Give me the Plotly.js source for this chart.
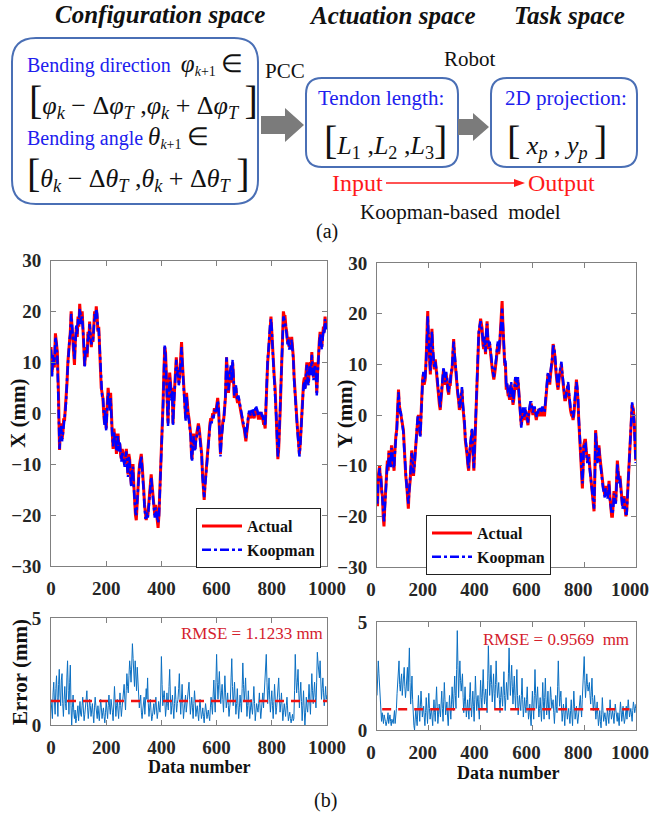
<!DOCTYPE html>
<html>
<head>
<meta charset="utf-8">
<script src="https://cdn.plot.ly/plotly-3.0.1.min.js"></script>
<style>
  html, body { margin: 0; padding: 0; background: #fff; }
  #fig { width: 650px; height: 818px; }
</style>
</head>
<body>
<div id="fig"></div>
<script>
// ---------- X position: actual vs Koopman prediction ----------
const xNum = [
  0,4,7,12,16,20,23,27,31,34,
  37,40,43,46,49,52,55,58,61,64,
  67,70,73,76,79,82,85,88,92,95,
  98,101,104,107,110,113,116,119,122,125,
  128,131,134,137,140,143,146,149,152,155,
  158,161,164,167,170,173,176,179,182,185,
  188,191,194,197,200,204,207,210,213,216,
  219,222,225,228,231,234,237,240,243,246,
  249,252,255,258,261,264,267,270,273,276,
  279,282,285,288,291,294,297,300,303,306,
  309,312,315,318,321,324,327,330,333,336,
  339,342,345,348,351,354,357,360,363,366,
  370,373,376,379,382,385,388,391,394,397,
  400,403,406,409,412,415,418,421,424,427,
  430,433,436,439,442,445,448,451,454,457,
  460,463,466,469,473,476,479,482,485,488,
  491,494,497,500,503,506,509,511,514,516,
  519,522,525,528,531,534,537,540,543,546,
  549,552,555,558,561,564,567,570,573,576,
  579,582,586,589,592,595,598,601,604,607,
  610,612,614,617,620,623,626,629,632,634,
  636,639,643,646,649,652,655,658,661,664,
  667,670,673,676,679,682,685,688,691,694,
  697,700,703,706,709,712,715,718,721,724,
  727,730,733,736,739,742,745,748,751,755,
  758,761,764,767,770,773,776,779,782,785,
  788,791,794,797,800,803,806,809,812,815,
  817,819,822,825,827,830,833,836,839,842,
  845,848,851,854,857,860,863,866,869,872,
  875,878,881,884,887,890,893,896,899,900,
  903,905,907,909,912,915,918,921,924,927,
  930,933,936,939,942,945,948,951,954,957,
  960,963,966,969,972,975,978,981,984,987,
  990,993,996,999
];
const xActual = [
  13,8,11,9,15.7,13,12,4,-7.2,-3,
  -2,-5,-4,-1,-1.5,1,3,6,10,13,
  14,16,20,17,15,12,9.5,14,17,15,
  19,17,21.5,19,18,20,16,13,9.3,12,
  13,11,16,14,18,15,13,15,14,17,
  20,18,21,19,16,17,12,8,5,4,
  3,0,-2,1,-3,2,5,3,1,4,
  -3,-4,-7,-3,-5,-4,-8,-6,-4,-7,
  -6,-8,-9,-7,-8,-9,-10,-8,-7,-10,
  -12,-8,-9,-12,-14,-11,-10,-14,-18,-20,
  -21,-17,-14,-12,-10,-9,-8,-10,-12,-15,
  -18,-20,-21,-19,-20,-18,-16,-13,-12,-14,
  -17,-19,-20,-18,-19,-21,-22.5,-20,-16,-11,
  -8,-5,2,8,13,12,8,3,-2,4,
  8,6,3,5,-2,2,6,9,11,8,
  9,6,7,10,14,10,7,5,2,-1,
  4,1,0,-1,-3,-4,-8,-9,-5,-4,
  -6,-7,-5,-4,-3,-2,-3,-5,-6,-8,
  -12,-15,-17,-14,-12,-10,-8,-5,-3,-2,
  -1,-1.5,0,-0.5,1,0,0.5,1.5,3,1,
  -3,-6,-8,-5,-2,-1.5,-1,1,3,7,
  11,8,4,6,8,9,6,10,7,3,
  4,5,3,2,3,2,1,0,-1,-2,
  -2.5,-3,-4,-5.5,-4,-2,-1,0,-0.5,-1,
  0,0.5,-0.5,-1,0,1,0.5,0,-1,-1,
  0,0,-1,-1,-2,-2,-3,2,6,10,
  12,15,17,19,16,12,9,7,5,2,
  -2,-5,-9,-7,-5,0,5,10,14,20,
  19,19,17,16,14,15,13,14,13,15,
  13,11,7,4,1,-1,-3,-5,-7,-8,
  -6,-4,-1,2,4,6,7,5,8,10,
  7,6,9,10,8,12,9,7,9,10,
  8,4,8,13,14,16,15,13,15,17,
  16,19,17,18
];
const xKoopman = [
  12.5,7,11.5,9.5,15,13.5,11,3.5,-7,-4,
  -2.5,-5.5,-3.5,-2,-1,0.5,2.5,6.5,9.5,13.5,
  14.5,15.5,19.5,17.5,14.5,12.5,10.5,13.5,17.5,15.5,
  18.5,17.5,20.5,19.5,17.5,19,16.5,13.5,9,12.5,
  12.5,11.5,15.5,14.5,17.5,15.5,13.5,14.5,14.5,16.5,
  19.5,18.5,20.5,19.5,16.5,16.5,12.5,8.5,5.5,3.5,
  3.5,0.5,-2.5,0.5,-3.5,1.5,4,3.5,0.5,3,
  -2.5,-4.5,-6.5,-3.5,-5.5,-4.5,-7.5,-6.5,-4.5,-7.5,
  -5.5,-8.5,-9.5,-7.5,-8.5,-9.5,-10.5,-8.5,-7.5,-10.5,
  -12.5,-8.5,-9.5,-12.5,-14.5,-11.5,-10.5,-14.5,-17.5,-19.5,
  -20,-17.5,-14.5,-12.5,-10.5,-9.5,-8.5,-10.5,-12.5,-15.5,
  -18.5,-20.5,-20.5,-19.5,-20.5,-18.5,-16.5,-13.5,-12.5,-14.5,
  -17.5,-19.5,-20.5,-18.5,-19.5,-20.5,-21.5,-20.5,-16.5,-11.5,
  -8.5,-5.5,1.5,7.5,13.5,11.5,7,2.5,-2.5,3.5,
  7,5.5,2.5,4.5,-2.5,1.5,5.5,8.5,10.5,7.5,
  8.5,5.5,6.5,9.5,13,9.5,6.5,4.5,1.5,-1.5,
  3.5,0.5,-0.5,-1.5,-3.5,-4.5,-8.5,-9.5,-5.5,-4.5,
  -6.5,-7.5,-5.5,-4.5,-3.5,-2.5,-3.5,-5.5,-6.5,-8.5,
  -12.5,-15.5,-16.5,-14.5,-12.5,-10.5,-8.5,-5.5,-3.5,-2.5,
  -1.5,-2,-0.5,-1,0.5,0.5,0,1,2.5,1.5,
  -3.5,-6.5,-8.5,-5.5,-2.5,-2,-1.5,0.5,3.5,7.5,
  11,8.5,4.5,6.5,8.5,9.5,6.5,10.5,7.5,3.5,
  4.5,5.5,3.5,2.5,3.5,2.5,1.5,0.5,-0.5,-1.5,
  -2,-2.5,-3.5,-5,-3.5,-1.5,-0.5,0.5,0,-0.5,
  0.5,1,0,-0.5,0.5,1.5,1,0.5,-0.5,-0.5,
  0.5,0.5,-0.5,-0.5,-1.5,-1.5,-2.5,2.5,6.5,10.5,
  12.5,15.5,17.5,18.5,16.5,12.5,9.5,7.5,5.5,2.5,
  -1.5,-4.5,-8.5,-6.5,-4.5,0.5,5.5,10.5,14.5,19,
  18.5,18,16.5,15.5,13.5,14.5,12.5,13.5,12.5,14.5,
  12.5,10.5,6.5,3.5,0.5,-1.5,-3.5,-5.5,-7.5,-8.5,
  -6.5,-4.5,-1.5,1.5,3.5,5.5,6,4.5,7.5,9.5,
  6.5,5.5,8.5,9.5,7.5,11.5,8.5,6.5,8.5,9.5,
  7.5,3.5,7.5,12.5,13.5,15.5,14.5,12.5,14.5,16.5,
  15.5,18.5,16.5,17.5
];

// ---------- Y position: actual vs Koopman prediction ----------
const yNum = [
  0,2,5,8,10,13,15,18,21,24,
  27,30,34,37,40,43,46,49,53,56,
  59,62,66,68,70,73,76,79,81,83,
  86,89,92,96,99,102,105,108,111,115,
  118,121,124,128,131,134,137,141,144,147,
  150,154,157,160,163,167,170,173,176,179,
  182,186,189,192,194,196,198,201,204,206,
  209,212,215,218,221,225,228,231,234,238,
  241,244,247,251,254,257,260,264,267,270,
  273,277,280,283,286,290,293,296,299,303,
  306,309,312,315,318,322,325,328,331,335,
  338,341,344,348,351,354,357,361,364,367,
  370,374,377,380,384,387,390,393,396,400,
  403,406,409,412,415,419,422,425,428,432,
  435,438,441,445,448,451,454,457,461,464,
  467,470,474,477,480,483,486,489,493,496,
  499,502,506,509,512,515,518,522,525,528,
  531,534,538,541,544,547,550,553,557,560,
  563,567,570,573,576,579,583,586,589,592,
  596,599,602,605,609,612,615,618,622,625,
  628,631,634,638,641,644,647,650,654,657,
  660,664,667,670,673,677,680,683,686,690,
  693,696,699,702,705,709,712,715,718,722,
  725,728,731,734,738,741,744,747,751,754,
  757,760,763,767,770,773,776,779,783,786,
  789,791,793,796,798,802,805,808,812,815,
  818,821,825,828,831,834,838,841,844,847,
  851,854,857,860,864,867,870,873,877,880,
  883,886,890,893,896,899,903,906,909,912,
  915,918,922,925,928,931,935,938,941,944,
  948,951,954,957,961,964,967,970,973,976,
  980,982,985,988,990,993,995,997,999
];
const yActual = [
  -17,-18,-12,-10.5,-10,-13,-12,-15,-16,-20,
  -22,-18,-14,-13,-9,-11,-7,-9,-10,-6,
  -8,-9,-11,-8,-6,-4,-3,1,3,5,
  2,1,0,-1,-2,-3,-6,-10,-12,-14,
  -16,-18.5,-15,-13,-10,-7,-9,-12,-10,-8,
  -5,-2,-1,0,-2,-4,0,4,7,8,
  6,7,10,14,18,20.5,16,12,10,8,
  13,17,13,10,9,11,9,8,6,4,
  2,1,3,5,7,9,7,6,8,7,
  5,4,6,6,8,9,12,15,12,9,
  7,5,4,3,1,2,4,5,2,0,
  -2,-5,-6,-8,-10,-11,-8,-6,-5,-3,
  -7,-11,-7,-2,4,10,13,16,17,19,
  18,17,14,13,15,12,16,18.5,15,13,
  14,12,11,9,8,7,8,9,11,13,
  14,12,14,17,19,22.5,18,15,10,10,
  5,6,4,4,3,5,6,4,2,3,
  5,7,6,5,7,5,3,1,-2,-1,
  1,0,-1,1,0,-1,-2,0,1,2,
  2,1,0,1,1,0,-1,0,0,1,
  1,0,0,1,1,0,0,2,5,7,
  8,7,6,8,9,11,14,13,12,9,
  7,6,5,7,8,9,10,8,6,4,
  3,3,4,5,6,4,2,1,0,0,
  -1,0,2,5,7,5,3,-1,-5,-8,
  -10,-12,-14.5,-10,-6,-5,-5,-7,-9,-8,
  -8,-10,-12,-13,-15,-17,-19,-12,-3,-5,
  -9,-7,-6,-8,-10,-12,-13,-14,-15,-16,
  -14,-15,-16,-15,-13,-16,-19,-20,-20,-18,
  -15,-16,-17,-13,-9,-11,-13,-12,-14,-16,
  -18,-17,-16,-18,-20,-19,-16,-14,-11,-8,
  -3,0,2,1.5,1,-1,-4,-7,-9
];
const yKoopman = [
  -16,-17.5,-13,-11,-10.5,-12.5,-12.5,-14.5,-16.5,-19.5,
  -21,-18.5,-14.5,-12.5,-9.5,-10.5,-7.5,-8.5,-10.5,-6.5,
  -7.5,-9.5,-10.5,-8.5,-6.5,-4.5,-3.5,0.5,3.5,4.5,
  2.5,0.5,0.5,-1.5,-2.5,-3.5,-6.5,-9.5,-12.5,-14.5,
  -15.5,-17.5,-15.5,-12.5,-10.5,-7.5,-8.5,-11.5,-10.5,-8.5,
  -5.5,-2.5,-0.5,-0.5,-1.5,-4.5,0.5,3.5,6.5,8.5,
  6.5,7.5,9.5,13.5,17.5,19.5,16.5,12.5,10.5,8.5,
  12.5,16.5,13.5,10.5,9.5,10.5,9.5,8.5,6.5,4.5,
  2.5,1.5,3.5,5.5,7.5,9.5,7.5,6.5,8.5,7.5,
  5.5,4.5,6.5,6.5,8.5,9.5,12.5,14.5,12.5,9.5,
  7.5,5.5,4.5,3.5,1.5,2.5,4.5,5.5,2.5,0.5,
  -1.5,-4.5,-5.5,-7.5,-9.5,-10.5,-7.5,-5.5,-4.5,-2.5,
  -6.5,-10.5,-6.5,-1.5,4.5,10.5,13.5,16.5,17.5,18.5,
  17.5,16.5,14.5,13.5,15.5,12.5,16.5,18,15.5,13.5,
  14.5,12.5,11.5,9.5,8.5,7.5,8.5,9.5,11.5,13.5,
  14.5,12.5,14.5,16.5,18.5,21,18.5,15.5,10.5,10.5,
  5.5,6.5,4.5,4.5,3.5,5.5,6.5,4.5,2.5,3.5,
  5.5,7.5,6.5,5.5,7.5,5.5,3.5,1.5,-2.5,-0.5,
  1.5,0.5,-0.5,1.5,0.5,-0.5,-1.5,0.5,1.5,2.5,
  2.5,1.5,0.5,1.5,1.5,0.5,-0.5,0.5,0.5,1.5,
  1.5,0.5,0.5,1.5,1.5,0.5,0.5,2.5,5.5,7.5,
  8.5,7.5,6.5,8.5,9.5,11.5,13.5,13.5,12.5,9.5,
  7.5,6.5,5.5,7.5,8.5,9.5,10.5,8.5,6.5,4.5,
  3.5,3.5,4.5,5.5,6.5,4.5,2.5,1.5,0.5,0.5,
  -0.5,0.5,2.5,5.5,6.5,5.5,3.5,-0.5,-4.5,-7.5,
  -9.5,-11.5,-13.5,-10.5,-6.5,-5.5,-5.5,-7.5,-9.5,-8.5,
  -8.5,-10.5,-12.5,-13.5,-15.5,-17.5,-18.5,-12.5,-3.5,-5.5,
  -9.5,-7.5,-6.5,-8.5,-10.5,-12.5,-13.5,-14.5,-15.5,-16.5,
  -14.5,-15.5,-16.5,-15.5,-13.5,-16.5,-18.5,-19.5,-19.5,-18.5,
  -15.5,-16.5,-17.5,-13.5,-9.5,-11.5,-13.5,-12.5,-14.5,-16.5,
  -18.5,-17.5,-16.5,-18.5,-19.5,-19.5,-16.5,-14.5,-11.5,-8.5,
  -3.5,-0.5,2.5,1.5,0.5,-1.5,-4.5,-7.5,-9.5
];

// ---------- Tracking errors, one sample every 2.5 data numbers ----------
const errStep = 2.5;
const xError = [
  1.2,0.6,0.3,1.5,2.0,1.1,0.5,1.7,2.3,1.3,0.4,1.9,2.6,1.4,0.9,2.1,2.4,1.0,0.4,1.2,
  1.8,1.0,0.7,2.2,3.0,1.6,0.5,2.0,2.8,0.9,0.0,0.8,1.4,0.6,0.3,0.7,0.1,0.3,0.5,0.9,
  0.2,0.6,1.1,0.5,0.4,0.9,1.3,0.7,0.2,0.5,0.9,1.3,1.6,0.8,0.3,0.7,1.2,0.9,0.4,0.7,
  1.0,0.5,0.1,0.8,1.3,0.9,0.5,0.3,0.9,0.6,0.2,0.7,1.2,0.8,0.3,0.6,0.8,0.4,0.1,0.6,
  1.1,0.7,0.3,0.9,1.4,0.8,0.5,1.2,1.0,0.6,0.2,1.0,1.8,1.1,0.4,0.9,1.2,0.7,0.3,0.9,
  1.5,0.9,0.4,0.8,1.1,1.4,1.9,1.2,0.7,1.6,2.4,1.8,1.5,2.3,3.0,2.6,2.0,2.8,3.8,3.1,
  2.5,1.8,3.0,2.1,1.6,2.7,2.2,1.5,0.8,1.1,1.4,0.6,0.3,0.7,1.0,1.3,0.5,1.0,1.7,1.2,
  2.2,1.0,0.4,0.8,1.2,0.6,0.2,0.4,0.8,1.0,0.5,0.9,1.3,0.7,0.3,0.6,1.1,0.8,0.6,1.4,
  3.2,1.9,0.9,1.3,1.6,1.1,0.4,0.8,1.5,1.0,0.7,1.8,2.6,1.4,0.5,0.9,1.4,0.8,0.3,1.0,
  1.8,1.2,0.6,1.0,1.2,1.7,2.4,1.3,0.5,1.2,1.9,1.0,0.3,0.7,1.1,1.4,0.6,1.0,1.5,1.7,
  2.0,1.2,0.5,0.9,1.3,0.8,0.3,1.0,1.6,1.1,0.4,0.7,0.9,0.5,0.2,0.8,1.2,0.7,0.3,0.5,
  0.8,0.4,0.1,0.6,1.0,0.7,0.3,0.5,0.7,0.4,0.2,0.8,1.3,0.9,0.5,1.4,2.1,1.2,0.6,2.0,
  3.3,2.0,1.2,1.9,2.5,1.6,1.0,1.5,1.9,1.2,0.6,1.4,2.3,1.5,0.8,1.1,1.5,0.9,0.4,0.8,
  1.2,2.2,3.1,1.8,0.9,1.4,2.0,1.1,0.5,1.0,1.7,0.9,0.3,0.8,1.4,1.0,0.6,1.7,2.9,1.9,
  1.1,1.6,2.2,1.2,0.4,0.9,1.6,0.9,0.3,0.7,1.2,0.8,0.5,1.1,1.8,1.0,0.2,0.6,1.0,0.8,
  0.6,1.0,1.5,0.8,0.3,0.7,1.2,1.5,0.8,1.3,2.0,2.6,3.3,2.0,1.0,1.6,2.2,1.2,0.6,1.1,
  1.6,0.9,0.3,1.1,1.9,1.2,0.5,0.8,1.2,1.6,2.2,1.3,0.6,1.0,1.5,0.8,0.2,0.6,1.0,0.7,
  0.4,0.9,1.3,0.7,0.2,0.4,0.6,0.3,0.1,0.3,0.5,0.2,0.3,1.6,3.3,2.2,1.5,2.0,2.6,1.6,
  0.8,1.4,2.0,1.1,0.2,0.9,1.6,0.7,0.0,0.6,1.3,0.8,0.6,1.2,1.9,1.1,0.5,1.5,2.4,1.6,
  1.0,1.5,2.0,1.3,0.8,2.0,3.4,2.9,2.6,2.2,3.0,2.1,1.2,1.7,2.2,1.5,0.9,1.3,1.8,1.2,
  1.4
];
const yError = [
  1.6,2.4,3.2,2.6,2.0,1.1,0.5,0.4,0.8,0.5,0.3,0.7,0.6,0.4,0.2,0.3,0.5,0.8,0.3,0.5,
  0.7,0.4,0.2,0.5,0.4,0.3,0.6,0.9,0.3,0.6,1.0,1.7,2.2,2.7,3.2,2.1,1.8,2.3,2.6,1.6,
  2.0,2.4,2.9,2.0,1.5,1.9,2.4,2.9,1.8,2.6,3.8,2.2,1.2,1.8,2.5,1.4,0.5,0.2,0.0,0.6,
  1.0,0.5,0.2,0.9,1.6,1.0,0.4,1.1,1.8,1.2,0.6,0.9,1.1,0.6,0.2,0.8,1.5,0.9,0.3,1.0,
  1.7,1.0,0.5,0.8,1.0,0.6,0.2,0.9,1.4,0.8,0.4,1.3,2.0,1.1,0.3,0.7,1.2,0.9,0.6,1.2,
  1.8,1.0,0.4,1.3,2.2,1.4,0.7,1.0,1.3,0.6,0.2,0.9,1.6,1.0,0.5,1.2,2.0,1.4,0.9,1.7,
  2.5,1.6,1.0,2.8,4.6,3.0,1.5,2.4,3.2,2.3,1.8,2.2,2.6,1.5,0.8,1.3,2.0,1.2,0.6,1.0,
  1.4,0.9,0.5,1.5,2.2,1.3,0.6,1.2,1.8,1.1,0.4,1.4,2.5,1.6,0.9,1.3,1.6,1.0,0.5,1.4,
  2.3,1.5,1.0,1.9,2.8,1.8,1.2,1.6,1.9,1.3,0.8,2.3,3.9,2.6,1.6,2.2,3.0,2.1,1.3,1.9,
  2.6,1.7,1.0,2.1,3.2,2.2,1.5,1.8,2.2,1.4,0.8,1.5,2.0,1.5,1.1,1.9,2.7,1.6,0.9,1.5,
  2.2,1.8,1.4,2.6,3.8,2.5,1.6,2.3,3.0,2.0,1.2,1.9,2.5,1.6,1.0,1.9,2.8,1.6,0.7,1.1,
  1.6,1.2,0.9,1.6,2.4,1.4,0.6,1.0,1.5,1.1,0.8,1.4,2.0,1.1,0.5,0.8,1.2,0.6,0.2,1.0,
  1.8,1.1,0.5,1.6,2.8,1.7,1.0,1.5,2.0,1.2,0.6,1.0,1.5,0.9,0.4,1.3,2.2,1.3,0.5,1.5,
  2.4,1.4,0.7,1.2,1.8,1.0,0.5,1.3,2.0,1.5,1.0,1.2,1.4,0.8,0.3,0.9,1.6,1.1,0.8,2.0,
  3.2,2.0,1.1,1.5,1.8,1.0,0.4,0.8,1.2,0.7,0.2,0.9,1.5,0.9,0.5,0.8,1.0,0.6,0.3,0.9,
  1.4,0.7,0.2,1.0,1.8,1.1,0.5,0.8,1.1,0.6,0.3,0.6,0.9,1.2,1.6,1.0,0.6,1.4,2.2,2.8,
  3.4,2.3,1.5,2.0,2.6,2.1,1.8,2.0,2.2,1.6,1.2,1.8,2.4,1.5,0.9,1.2,1.6,1.0,0.5,0.9,
  1.3,0.7,0.2,0.5,0.9,0.4,0.1,0.7,1.5,0.9,0.4,0.6,0.8,0.5,0.2,0.6,1.0,0.6,0.3,0.8,
  1.4,0.9,0.5,0.7,0.9,0.6,0.3,0.8,1.2,0.9,0.6,0.4,0.8,0.5,0.2,0.8,1.3,0.9,0.4,0.7,
  1.1,0.6,0.3,0.5,0.8,1.1,0.5,0.9,1.4,1.0,0.6,0.8,1.0,0.7,0.4,0.9,1.3,1.1,0.8,1.0,
  1.2
];
const rmseX = 1.1233;
const rmseY = 0.9569;
const rmseXSpan = [0, 1000];
const rmseYSpan = [20, 975];

const timeTicks = [0, 200, 400, 600, 800, 1000];
const posTicks = [-30, -20, -10, 0, 10, 20, 30];
const errTicks = [0, 5];

// ---------- styling ----------
const W = 650, H = 818;
const SERIF = 'Liberation Serif, Times New Roman, serif';
const RED = '#ff0000', BLUE = '#0000ff', ERRBLUE = '#0a6fc2';
const TXTBLUE = '#2020ee', BOXBLUE = '#4a6fb5', GREY = '#808080';
const px = v => v / W;
const py = v => 1 - v / H;
const P = (x, y) => px(x).toFixed(5) + ',' + py(y).toFixed(5);

function roundRect(x0, y0, x1, y1, r) {
  return 'M' + P(x0 + r, y0) + ' L' + P(x1 - r, y0) + ' Q' + P(x1, y0) + ' ' + P(x1, y0 + r) +
    ' L' + P(x1, y1 - r) + ' Q' + P(x1, y1) + ' ' + P(x1 - r, y1) +
    ' L' + P(x0 + r, y1) + ' Q' + P(x0, y1) + ' ' + P(x0, y1 - r) +
    ' L' + P(x0, y0 + r) + ' Q' + P(x0, y0) + ' ' + P(x0 + r, y0) + ' Z';
}
function blockArrow(x0, xh, x1, c, t, h) {
  return 'M' + P(x0, c - t) + ' L' + P(xh, c - t) + ' L' + P(xh, c - h) + ' L' + P(x1, c) +
    ' L' + P(xh, c + h) + ' L' + P(xh, c + t) + ' L' + P(x0, c + t) + ' Z';
}

const axisBase = {
  showline: true, linecolor: GREY, linewidth: 1, mirror: 'ticks',
  ticks: 'inside', ticklen: 5, tickcolor: GREY, tickwidth: 1,
  showgrid: false, zeroline: false, ticklabelstandoff: 5, ticklabeloverflow: 'allow',
  tickfont: { family: SERIF, size: 19, color: '#262626', weight: 'bold' }
};
// right-hand panels sit against the page edge: nudge their x labels inward
const rightEdgeAxis = { ticklabelshift: -6 };

const traces = [
  { x: xNum, y: xActual, xaxis: 'x', yaxis: 'y', mode: 'lines', name: 'Actual',
    line: { color: RED, width: 3 }, legend: 'legend' },
  { x: xNum, y: xKoopman, xaxis: 'x', yaxis: 'y', mode: 'lines', name: 'Koopman',
    line: { color: BLUE, width: 2.5, dash: 'dashdot' }, legend: 'legend' },
  { x: yNum, y: yActual, xaxis: 'x2', yaxis: 'y2', mode: 'lines', name: 'Actual',
    line: { color: RED, width: 3 }, legend: 'legend2' },
  { x: yNum, y: yKoopman, xaxis: 'x2', yaxis: 'y2', mode: 'lines', name: 'Koopman',
    line: { color: BLUE, width: 2.5, dash: 'dashdot' }, legend: 'legend2' },
  { x0: 0, dx: errStep, y: xError, xaxis: 'x3', yaxis: 'y3', mode: 'lines', showlegend: false,
    line: { color: ERRBLUE, width: 1 } },
  { x: rmseXSpan, y: [rmseX, rmseX], xaxis: 'x3', yaxis: 'y3', mode: 'lines', showlegend: false,
    line: { color: '#ee1111', width: 2.5, dash: '9px,7px' } },
  { x0: 0, dx: errStep, y: yError, xaxis: 'x4', yaxis: 'y4', mode: 'lines', showlegend: false,
    line: { color: ERRBLUE, width: 1 } },
  { x: rmseYSpan, y: [rmseY, rmseY], xaxis: 'x4', yaxis: 'y4', mode: 'lines', showlegend: false,
    line: { color: '#ee1111', width: 2.5, dash: '9px,7px' } }
];

const legendBase = {
  xanchor: 'left', yanchor: 'top', bgcolor: '#ffffff', bordercolor: '#222', borderwidth: 1,
  font: { family: SERIF, size: 16, color: '#111', weight: 'bold' }, tracegroupgap: 0,
  itemwidth: 40
};

const big = s => '<span style="font-size:40px">' + s + '</span>';
const blue = s => '<span style="color:' + TXTBLUE + '">' + s + '</span>';
const sub = s => '<sub>' + s + '</sub>';
const sym = s => '<span style="font-size:25px">' + s + '</span>';

function note(x, y, text, size, opts) {
  return Object.assign({
    xref: 'paper', yref: 'paper', x: px(x), y: py(y), text: text, showarrow: false,
    xanchor: 'center', yanchor: 'middle',
    font: { family: SERIF, size: size, color: '#111' }
  }, opts || {});
}
const redFont = size => ({ font: { family: SERIF, size: size, color: '#ff1a1a' } });
const rmseFont = { font: { family: SERIF, size: 17, color: '#d4202c' } };
const vertical = { textangle: -90 };

const annotations = [
  // diagram (a)
  note(160, 14, '<b><i>Configuration space</i></b>', 25),
  note(392, 16, '<b><i>Actuation space</i></b>', 25),
  note(569, 16, '<b><i>Task space</i></b>', 25),
  note(25, 64, blue('Bending direction') + '  ' + sym('<i>φ</i>') + sub('<i>k</i>+1') + ' ' + sym('∈'), 20, { xanchor: 'left' }),
  note(27, 100, big('[') + '<i>φ</i>' + sub('<i>k</i>') + ' − Δ<i>φ</i>' + sub('<i>T</i>') + ' ,<i>φ</i>' + sub('<i>k</i>') +
    ' + Δ<i>φ</i>' + sub('<i>T</i>') + ' ' + big(']'), 26, { xanchor: 'left' }),
  note(25, 138, blue('Bending angle') + ' ' + sym('<i>θ</i>') + sub('<i>k</i>+1') + ' ' + sym('∈'), 20, { xanchor: 'left' }),
  note(25, 173, big('[') + '<i>θ</i>' + sub('<i>k</i>') + ' − Δ<i>θ</i>' + sub('<i>T</i>') + ' ,<i>θ</i>' + sub('<i>k</i>') +
    ' + Δ<i>θ</i>' + sub('<i>T</i>') + ' ' + big(']'), 26, { xanchor: 'left' }),
  note(285, 71, 'PCC', 21),
  note(470, 59, 'Robot', 21),
  note(381, 98, blue('Tendon length:'), 21),
  note(386, 140, big('[') + '<i>L</i>' + sub('1') + ' ,<i>L</i>' + sub('2') + ' ,<i>L</i>' + sub('3') + big(']'), 26),
  note(566, 98, blue('2D projection:'), 21),
  note(557, 140, big('[') + ' <i>x</i>' + sub('<i>p</i>') + ' , <i>y</i>' + sub('<i>p</i>') + ' ' + big(']'), 26),
  note(357, 183, 'Input', 24, redFont(24)),
  note(561, 183, 'Output', 24, redFont(24)),
  note(460, 212, 'Koopman-based&nbsp; model', 21),
  note(327, 231, '(a)', 20),
  // panel (b) axis titles and labels
  note(18, 414, '<b>X (mm)</b>', 21, vertical),
  note(345, 414, '<b>Y (mm)</b>', 21, vertical),
  note(20, 672, '<b>Error (mm)</b>', 21, vertical),
  note(199, 767, '<b>Data number</b>', 18),
  note(508, 773, '<b>Data number</b>', 18),
  note(252, 633, 'RMSE = 1.1233 mm', 17, rmseFont),
  note(556, 639, 'RMSE = 0.9569&nbsp; mm', 17, rmseFont),
  note(325, 800, '(b)', 20)
];

const shapes = [
  { type: 'path', xref: 'paper', yref: 'paper', path: roundRect(12, 38, 258, 204, 24),
    line: { color: BOXBLUE, width: 2 }, fillcolor: 'rgba(0,0,0,0)' },
  { type: 'path', xref: 'paper', yref: 'paper', path: roundRect(306, 78, 458, 167, 16),
    line: { color: BOXBLUE, width: 2 }, fillcolor: 'rgba(0,0,0,0)' },
  { type: 'path', xref: 'paper', yref: 'paper', path: roundRect(491, 78, 637, 167, 16),
    line: { color: BOXBLUE, width: 2 }, fillcolor: 'rgba(0,0,0,0)' },
  { type: 'path', xref: 'paper', yref: 'paper', path: blockArrow(261, 285, 304, 125, 9, 17),
    line: { width: 0 }, fillcolor: '#7b7b7b' },
  { type: 'path', xref: 'paper', yref: 'paper', path: blockArrow(458, 473, 489, 127, 8, 14),
    line: { width: 0 }, fillcolor: '#7b7b7b' },
  { type: 'line', xref: 'paper', yref: 'paper', x0: px(386), y0: py(183), x1: px(516), y1: py(183),
    line: { color: '#ff1a1a', width: 1.5 } },
  { type: 'path', xref: 'paper', yref: 'paper',
    path: 'M' + P(514, 179) + ' L' + P(525, 183) + ' L' + P(514, 187) + ' Z',
    line: { width: 0 }, fillcolor: '#ff1a1a' }
];

const layout = {
  width: W, height: H,
  margin: { l: 0, r: 0, t: 0, b: 0 },
  paper_bgcolor: '#ffffff', plot_bgcolor: '#ffffff',
  font: { family: SERIF, color: '#111' },
  showlegend: true,
  xaxis: Object.assign({}, axisBase, { domain: [px(51), px(327)], anchor: 'y', range: [0, 1000], tickvals: timeTicks }),
  yaxis: Object.assign({}, axisBase, { domain: [py(566), py(260.5)], anchor: 'x', range: [-30, 30], tickvals: posTicks }),
  xaxis2: Object.assign({}, axisBase, rightEdgeAxis, { domain: [px(377), px(636)], anchor: 'y2', range: [0, 1000], tickvals: timeTicks }),
  yaxis2: Object.assign({}, axisBase, { domain: [py(567), py(263)], anchor: 'x2', range: [-30, 30], tickvals: posTicks }),
  xaxis3: Object.assign({}, axisBase, { domain: [px(51), px(327)], anchor: 'y3', range: [0, 1000], tickvals: timeTicks }),
  yaxis3: Object.assign({}, axisBase, { domain: [py(725), py(618)], anchor: 'x3', range: [0, 5], tickvals: errTicks }),
  xaxis4: Object.assign({}, axisBase, rightEdgeAxis, { domain: [px(377), px(636)], anchor: 'y4', range: [0, 1000], tickvals: timeTicks }),
  yaxis4: Object.assign({}, axisBase, { domain: [py(730), py(622)], anchor: 'x4', range: [0, 5], tickvals: errTicks }),
  legend: Object.assign({}, legendBase, { x: px(196), y: py(508) }),
  legend2: Object.assign({}, legendBase, { x: px(426), y: py(515) }),
  annotations: annotations,
  shapes: shapes
};

Plotly.newPlot('fig', traces, layout, { staticPlot: true, displayModeBar: false });
</script>
</body>
</html>
